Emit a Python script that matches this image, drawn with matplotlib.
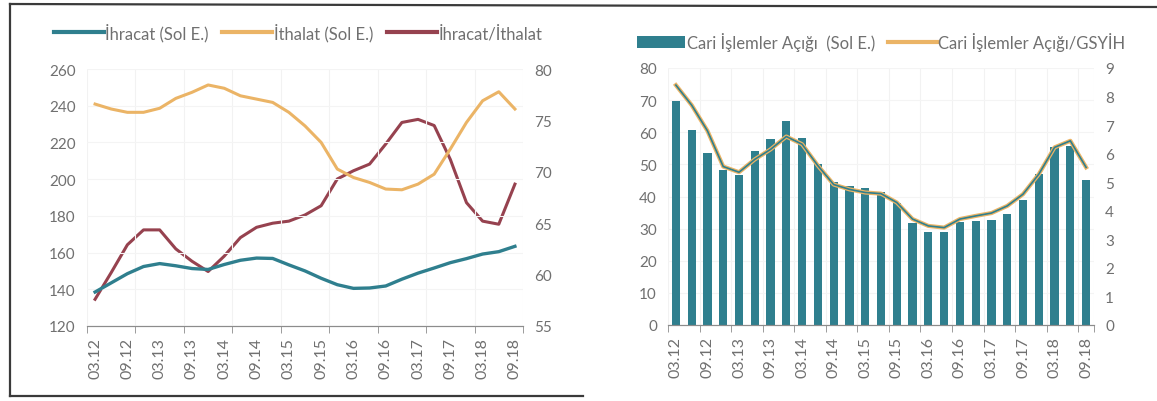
import matplotlib
matplotlib.use('Agg')
import matplotlib.pyplot as plt
from matplotlib.lines import Line2D
from matplotlib.patches import Patch
import numpy as np

plt.rcParams['font.family'] = ['Lato', 'DejaVu Sans']

# quarterly data, 03.12 - 09.18
quarters = ['03.12', '06.12', '09.12', '12.12', '03.13', '06.13', '09.13', '12.13',
            '03.14', '06.14', '09.14', '12.14', '03.15', '06.15', '09.15', '12.15',
            '03.16', '06.16', '09.16', '12.16', '03.17', '06.17', '09.17', '12.17',
            '03.18', '06.18', '09.18']

ihracat = [138.5, 143.5, 148.5, 152.4, 154.0, 152.8, 151.3, 150.8, 153.5, 155.8,
           157.0, 156.8, 153.3, 150.0, 146.0, 142.5, 140.5, 140.7, 141.8, 145.5,
           148.8, 151.6, 154.5, 156.7, 159.2, 160.5, 163.4]
ithalat = [240.9, 238.2, 236.4, 236.4, 238.6, 244.0, 247.3, 251.3, 249.5, 245.4,
           243.6, 241.8, 236.4, 229.0, 220.0, 205.5, 200.9, 198.2, 194.6, 194.2,
           197.3, 202.7, 216.4, 230.9, 242.7, 247.6, 238.2]
ihr_ith = [57.6, 60.2, 62.9, 64.35, 64.35, 62.5, 61.3, 60.3, 61.8, 63.6,
           64.6, 65.0, 65.2, 65.8, 66.7, 69.3, 70.1, 70.75, 72.7, 74.8,
           75.1, 74.5, 71.2, 67.0, 65.2, 64.9, 68.8]

cari_acik = [69.8, 60.8, 53.5, 48.2, 46.6, 54.2, 57.9, 63.6, 58.2, 50.1,
             44.4, 43.3, 42.8, 41.5, 37.9, 31.9, 29.0, 29.0, 32.1, 32.4,
             32.7, 34.5, 39.0, 47.0, 55.3, 55.8, 45.2]
cari_gsyih = [8.4, 7.7, 6.8, 5.55, 5.35, 5.8, 6.15, 6.6, 6.33, 5.58,
              4.92, 4.75, 4.64, 4.6, 4.29, 3.71, 3.47, 3.41, 3.71, 3.82,
              3.92, 4.17, 4.58, 5.28, 6.22, 6.45, 5.52]

TEAL = '#2f7f8e'
ORANGE = '#ebb466'
RED = '#96424f'
GREY = '#707070'
FS = 11

W, H = 1157, 402
fig = plt.figure(figsize=(W / 100, H / 100), dpi=100, facecolor='white')
x = np.arange(len(quarters))


def style_axes(ax, ax2, mark_step):
    for a in (ax, ax2):
        for s in ('top', 'left', 'right'):
            a.spines[s].set_visible(False)
        a.spines['bottom'].set_color('#8c8c8c')
        a.tick_params(axis='y', length=0, labelcolor=GREY, labelsize=FS, pad=8)
    ax.set_xlim(-0.5, len(quarters) - 0.5)
    ax.set_xticks(x[::2])
    ax.set_xticklabels(quarters[::2], rotation=90)
    ax.tick_params(axis='x', which='major', length=0, labelcolor=GREY, labelsize=11.5, pad=8)
    marks = list(np.arange(-0.5, len(quarters), mark_step))
    if marks[-1] != len(quarters) - 0.5:
        marks.append(len(quarters) - 0.5)
    ax.set_xticks(marks, minor=True)
    ax.tick_params(axis='x', which='minor', length=5, color='#8c8c8c')
    ax.grid(True, which='minor', axis='x', color='#f2f2f2', lw=0.8)
    ax.grid(True, which='major', axis='y', color='#f4f4f4', lw=0.8)
    ax.set_axisbelow(True)


# left panel
ax = fig.add_axes([87 / W, 1 - 327 / H, 436 / W, 257 / H])
ax2 = ax.twinx()
ax.plot(x, ihracat, color=TEAL, lw=2.4, label='İhracat (Sol E.)')
ax.plot(x, ithalat, color=ORANGE, lw=2.2, label='İthalat (Sol E.)')
ax2.plot(x, ihr_ith, color=RED, lw=2.2, label='İhracat/İthalat')
ax.set_ylim(120, 260)
ax.set_yticks(range(120, 261, 20))
ax2.set_ylim(55, 80)
ax2.set_yticks(range(55, 81, 5))
style_axes(ax, ax2, 3)
ax.set_zorder(ax2.get_zorder() + 1)
ax.patch.set_visible(False)
handles = [Line2D([], [], color=TEAL, lw=3), Line2D([], [], color=ORANGE, lw=3),
           Line2D([], [], color=RED, lw=3)]
fig.legend(handles, ['İhracat (Sol E.)', 'İthalat (Sol E.)', 'İhracat/İthalat'],
           loc='center left', bbox_to_anchor=(47 / W, 1 - 33 / H), ncol=3, frameon=False,
           fontsize=12, labelcolor=GREY, handlelength=3.0, handletextpad=0.1,
           columnspacing=0.8, borderaxespad=0)

# right panel
bx = fig.add_axes([668 / W, 1 - 326 / H, 426 / W, 257 / H])
bx2 = bx.twinx()
bx.bar(x, cari_acik, width=0.52, color=TEAL)
bx2.plot(x, cari_gsyih, color=ORANGE, lw=3)
bx2.plot(x, cari_gsyih, color=TEAL, lw=1.2)
bx.set_ylim(0, 80)
bx.set_yticks(range(0, 81, 10))
bx2.set_ylim(0, 9)
bx2.set_yticks(range(0, 10))
style_axes(bx, bx2, 2)
handles = [Patch(facecolor=TEAL), Line2D([], [], color=ORANGE, lw=3)]
fig.legend(handles, ['Cari İşlemler Açığı  (Sol E.)', 'Cari İşlemler Açığı/GSYİH'],
           loc='center left', bbox_to_anchor=(630 / W, 1 - 42 / H), ncol=2, frameon=False,
           fontsize=12, labelcolor=GREY, handlelength=2.9, handletextpad=0.1,
           columnspacing=0.8, borderaxespad=0)

# scanned frame lines
frame = dict(color='#3a3a3a', lw=1.6, transform=fig.transFigure)
fig.add_artist(Line2D([10 / W, 1.0], [1 - 5 / H, 1 - 8 / H], **frame))
fig.add_artist(Line2D([10 / W, 10 / W], [1 - 5 / H, 1 - 397 / H], **frame))
fig.add_artist(Line2D([10 / W, 583 / W], [1 - 397 / H, 1 - 397 / H], **frame))

fig.savefig('out.png', dpi=100, facecolor='white')
